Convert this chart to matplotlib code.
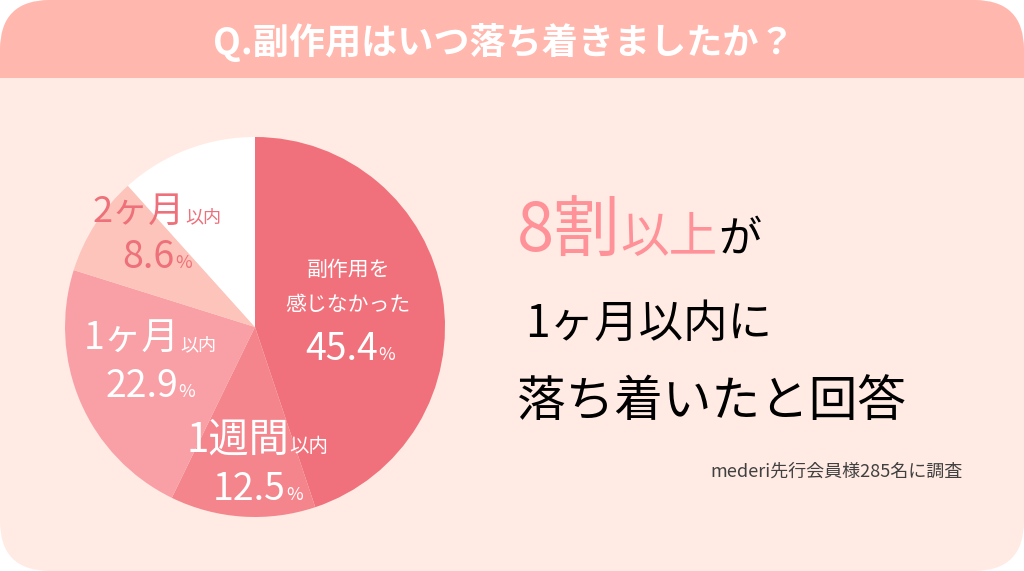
import matplotlib
matplotlib.use('Agg')
import matplotlib.pyplot as plt
from matplotlib.patches import FancyBboxPatch, Rectangle

plt.rcParams['font.family'] = ['Noto Sans CJK JP', 'DejaVu Sans']

# ---- data ----
title = "Q.副作用はいつ落ち着きましたか？"
categories = ["副作用を感じなかった", "1週間以内", "1ヶ月以内", "2ヶ月以内", "その他"]
values = [45.4, 12.5, 22.9, 8.6]
others = 11.8          # unlabeled white slice, size
pct_labels = ["45.4", "12.5", "22.9", "8.6"]
headline = ["8割", "以上", "が"]
line2 = "1ヶ月以内に"
line3 = "落ち着いたと回答"
note = "mederi先行会員様285名に調査"

slice_colors = ["#F0717B", "#F5858C", "#F9A0A6", "#FCC4BA", "#FFFFFF"]
bg_body = "#FFEBE4"
bg_head = "#FFB7AE"
coral = "#EE707A"
pink = "#FF9198"

W, H = 1024, 571
fig = plt.figure(figsize=(W / 100, H / 100), dpi=100, facecolor="white")
ax = fig.add_axes([0, 0, 1, 1])
ax.set_xlim(0, W)
ax.set_ylim(0, H)
ax.axis('off')


def Y(y):
    return H - y


# background
body = FancyBboxPatch((0, 0), W, H, boxstyle="round,pad=0,rounding_size=50",
                      facecolor=bg_body, edgecolor="none", zorder=0)
ax.add_patch(body)
head = Rectangle((0, Y(78)), W, 78, facecolor=bg_head, edgecolor="none", zorder=1)
ax.add_patch(head)
head.set_clip_path(body)

ax.text(504, Y(43), title, color="white", fontsize=26, fontweight="bold",
        ha="center", va="center", zorder=3)

# pie
wedges, _ = ax.pie(values + [others], colors=slice_colors, startangle=90,
                   counterclock=False, center=(255, Y(327)), radius=190,
                   frame=True, wedgeprops=dict(linewidth=0))
for w in wedges:
    w.set_zorder(2)
ax.set_xlim(0, W)
ax.set_ylim(0, H)
ax.set_aspect('auto')
ax.axis('off')

renderer = fig.canvas.get_renderer()


def line(x, y, runs, ha='left'):
    texts, widths = [], []
    for s, size, color, weight in runs:
        t = ax.text(0, Y(y), s, fontsize=size, color=color, fontweight=weight,
                    ha='left', va='baseline', zorder=4)
        bb = t.get_window_extent(renderer)
        widths.append(bb.width)
        texts.append(t)
    total = sum(widths)
    if ha == 'center':
        x0 = x - total / 2
    elif ha == 'right':
        x0 = x - total
    else:
        x0 = x
    for t, w in zip(texts, widths):
        t.set_x(x0)
        x0 += w


# pie labels
line(348, 276, [("副作用を", 15, "white", "normal")], ha='center')
line(348, 311, [("感じなかった", 15, "white", "normal")], ha='center')
line(350, 360, [(pct_labels[0], 27, "white", "normal"), ("%", 13, "white", "normal")], ha='center')

line(257, 452, [("1週間", 29, "white", "normal"), ("以内", 14, "white", "normal")], ha='center')
line(258, 500, [(pct_labels[1], 27, "white", "normal"), ("%", 13, "white", "normal")], ha='center')

line(150, 350, [("1ヶ月", 27, "white", "normal"), ("以内", 13, "white", "normal")], ha='center')
line(150, 397, [(pct_labels[2], 27, "white", "normal"), ("%", 13, "white", "normal")], ha='center')

line(157, 222, [("2ヶ月", 26, coral, "normal"), ("以内", 13, coral, "normal")], ha='center')
line(157, 268, [(pct_labels[3], 27, coral, "normal"), ("%", 13, coral, "normal")], ha='center')

# right headline
line(517, 252, [(headline[0], 48, pink, "normal"), (headline[1], 35, pink, "normal"),
                (headline[2], 31, "black", "normal")])
line(525, 337, [(line2, 32, "black", "normal")])
line(517, 416, [(line3, 35, "black", "normal")])
line(963, 477, [(note, 13, "#404040", "normal")], ha='right')

fig.savefig("out.png", dpi=100, facecolor="white")
